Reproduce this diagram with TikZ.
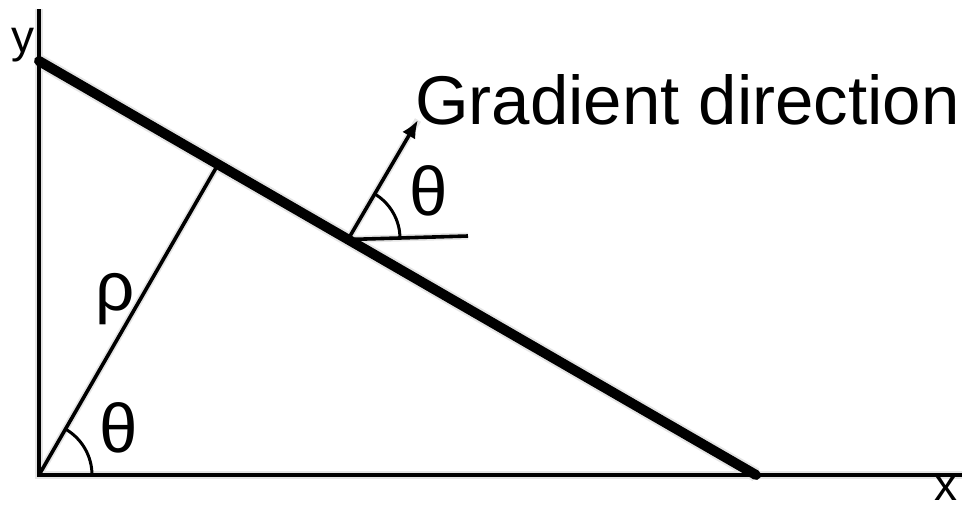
\documentclass[tikz,border=0pt]{standalone}
\usepackage{fontspec}
\setmainfont{Liberation Sans}
\usetikzlibrary{arrows.meta}
\begin{document}
\begin{tikzpicture}[x=1pt,y=-1pt,
  axis/.style={line width=4pt},
  thinline/.style={line width=3.6pt},
  edgeline/.style={line width=10pt, line cap=round},
  arcline/.style={line width=3pt},
  shadowline/.style={draw=black!10, line width=#1},
  lbl/.style={inner sep=0pt, anchor=base west, font=\fontsize{69}{80}\selectfont},
  axlbl/.style={inner sep=0pt, anchor=base west, font=\fontsize{46}{55}\selectfont}]
\useasboundingbox (0,0) rectangle (962,509);
% points
\coordinate (O) at (39,475);
\coordinate (Ytop) at (39,9);
\coordinate (Xend) at (962,475);
\coordinate (A) at (39,61);
\coordinate (B) at (756,475);
\coordinate (F) at (218,164.5);
\coordinate (G) at (348,239.5);
\coordinate (T) at (418,120);
\coordinate (H) at (468,236);
% soft shadows
\begin{scope}[shift={(3,7)}]
  \draw[shadowline=8pt] (Ytop) -- (O) -- (Xend);
  \draw[shadowline=14pt] (A) -- (B);
  \draw[shadowline=7pt] (O) -- (F);
  \draw[shadowline=7pt] (G) -- (T);
  \draw[shadowline=7pt] (G) -- (H);
\end{scope}
% axes
\draw[axis] (Ytop) -- (O) -- (Xend);
% rho line
\draw[thinline] (O) -- (F);
% edge line
\draw[edgeline] (A) -- (B);
% gradient arrow and reference line
\draw[thinline] (G) -- (H);
\draw[thinline, -{Latex[length=18pt,width=15pt]}] (G) -- (T);
% angle arcs
\draw[arcline] (O) ++(53,0) arc[start angle=0, end angle=60, radius=53pt];
\draw[arcline] (G) ++(52,-0.5) arc[start angle=-0.5, end angle=60, radius=52pt];
% labels
\node[lbl] (grad) at (415,124) {Gradient direction};
\node[lbl] (th1) at (409,215) {θ};
\node[lbl] (th2) at (99,452) {θ};
\node[lbl] (rho) at (95,310) {ρ};
\node[axlbl] (ylab) at (11,52) {y};
\node[axlbl] (xlab) at (934,500) {x};
\end{tikzpicture}
\end{document}
